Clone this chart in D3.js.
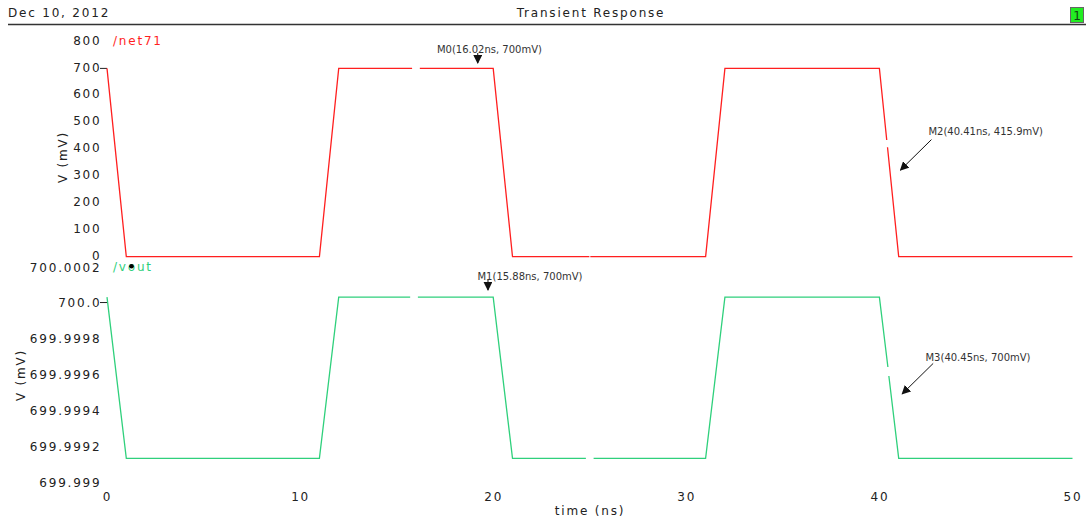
<!DOCTYPE html>
<html>
<head>
<meta charset="utf-8">
<script src="https://cdn.jsdelivr.net/npm/d3@7"></script>
<style>
  html, body { margin: 0; padding: 0; background: #fff; }
  svg { display: block; }
  .lbl { font-family: "DejaVu Sans", Verdana, sans-serif; font-size: 12px; letter-spacing: 1.8px; fill: #222; }
  .mk { font-family: "DejaVu Sans", Verdana, sans-serif; font-size: 10px; fill: #333; }
</style>
</head>
<body>
<svg id="chart" width="1086" height="520"></svg>
<script>
// ---------------- data ----------------
const chartDate = "Dec 10, 2012";
const chartTitle = "Transient Response";
const xTitle = "time (ns)";
const yTitle = "V (mV)";
const xTicks = [0, 10, 20, 30, 40, 50];

const net71Name = "/net71";
const net71Ticks = [0, 100, 200, 300, 400, 500, 600, 700, 800];
const net71Time = [0, 1, 11, 12, 15.8, null, 16.2, 20, 21, 24.98, null, 25.03, 31, 32, 40, 40.38, null, 40.42, 41, 50];
const net71mV   = [700, 0, 0, 700, 700, null, 700, 700, 0, 0, null, 0, 0, 700, 700, 434, null, 407, 0, 0];

const voutName = "/vout";
const voutTicks = [699.999, 699.9992, 699.9994, 699.9996, 699.9998, 700.0, 700.0002];
const voutTickLabels = ["699.999", "699.9992", "699.9994", "699.9996", "699.9998", "700.0", "700.0002"];
const voutTime = [0, 1, 11, 12, 15.7, null, 16.1, 20, 21, 24.8, null, 25.2, 31, 32, 40, 40.44, null, 40.49, 41, 50];
const voutmV   = [700.00003, 699.99913, 699.99913, 700.00003, 700.00003, null, 700.00003, 700.00003, 699.99913, 699.99913, null, 699.99913, 699.99913, 700.00003, 700.00003, 699.99964, null, 699.99959, 699.99913, 699.99913];

const markerNames  = ["M0", "M1", "M2", "M3"];
const markerLabels = ["M0(16.02ns, 700mV)", "M1(15.88ns, 700mV)", "M2(40.41ns, 415.9mV)", "M3(40.45ns, 700mV)"];
const markerPanel  = ["net71", "vout", "net71", "vout"];
const markerTipT   = [19.2, 19.73, 41.09, 41.18];
const markerTipV   = [720, 700.00007, 322, 699.99949];

// ---------------- drawing ----------------
const svg = d3.select("#chart");
const red = "#ff1f1f";
const green = "#2fd07c";

const x = d3.scaleLinear().domain([0, 50]).range([107, 1072.5]);
const yTop = d3.scaleLinear().domain([0, 800]).range([256.7, 41.5]);
const yBot = d3.scaleLinear().domain([699.999, 700.0002]).range([481.7, 266.7]);

// header
svg.append("text").attr("class", "lbl").attr("x", 8).attr("y", 17).text(chartDate);
svg.append("text").attr("class", "lbl").attr("x", 591).attr("y", 17).attr("text-anchor", "middle").text(chartTitle);
svg.append("line").attr("x1", 8).attr("x2", 1086).attr("y1", 24.5).attr("y2", 24.5)
  .attr("stroke", "#333").attr("stroke-width", 1.4);
svg.append("rect").attr("x", 1070.5).attr("y", 7.5).attr("width", 13).attr("height", 15)
  .attr("fill", "#22ee22").attr("stroke", "#666").attr("stroke-width", 1);
svg.append("text").attr("x", 1077).attr("y", 20).attr("text-anchor", "middle")
  .style("font-family", "DejaVu Sans, sans-serif").style("font-size", "12px").attr("fill", "#114411").text("1");

// y axes
function yAxis(scale, ticks, labels, dy) {
  const ax = d3.axisLeft(scale).tickValues(ticks).tickSize(0).tickPadding(5.5);
  if (labels) ax.tickFormat((d, i) => labels[i]);
  else ax.tickFormat(d => String(d));
  const g = svg.append("g").attr("transform", "translate(107," + dy + ")").call(ax);
  g.select(".domain").remove();
  g.selectAll("text").attr("class", "lbl").attr("font-family", null).attr("font-size", null).attr("fill", null);
  return g;
}
const gBot = yAxis(yBot, voutTicks, voutTickLabels, 0.5);
const gTop = yAxis(yTop, net71Ticks, null, -1.2);
gTop.raise();

// short ticks at 700 levels
svg.append("line").attr("x1", 100).attr("x2", 107).attr("y1", yTop(700)).attr("y2", yTop(700)).attr("stroke", "#222");
svg.append("line").attr("x1", 100).attr("x2", 107).attr("y1", yBot(700.0)).attr("y2", yBot(700.0)).attr("stroke", "#222");

// x axis
const xa = d3.axisBottom(x).tickValues(xTicks).tickSize(0).tickPadding(0).tickFormat(d3.format("d"));
const gx = svg.append("g").attr("transform", "translate(0,492)").call(xa);
gx.select(".domain").remove();
gx.selectAll("text").attr("class", "lbl").attr("font-family", null).attr("font-size", null).attr("fill", null);

// axis titles
svg.append("text").attr("class", "lbl").attr("x", 590).attr("y", 515).attr("text-anchor", "middle").text(xTitle);
svg.append("text").attr("class", "lbl").attr("transform", "translate(67,157) rotate(-90)").attr("text-anchor", "middle").text(yTitle);
svg.append("text").attr("class", "lbl").attr("transform", "translate(25,375) rotate(-90)").attr("text-anchor", "middle").text(yTitle);

// series names
svg.append("text").attr("class", "lbl").attr("x", 113).attr("y", 45).style("fill", red).text(net71Name);
svg.append("text").attr("class", "lbl").attr("x", 113).attr("y", 270.5).style("fill", green).text(voutName);
svg.append("circle").attr("cx", 131.5).attr("cy", 266.3).attr("r", 2.3).attr("fill", "#000");

// waveforms
function drawSeries(ts, vs, yScale, color) {
  const pts = ts.map((t, i) => ({ t, v: vs[i] }));
  const line = d3.line().defined(d => d.v !== null && d.t !== null)
    .x(d => x(d.t)).y(d => yScale(d.v));
  svg.append("path").datum(pts).attr("d", line).attr("fill", "none")
    .attr("stroke", color).attr("stroke-width", 1.3);
}
drawSeries(net71Time, net71mV, yTop, red);
drawSeries(voutTime, voutmV, yBot, green);

// markers
svg.append("defs").append("marker").attr("id", "ah").attr("viewBox", "0 0 10 10")
  .attr("refX", 9).attr("refY", 5).attr("markerWidth", 9).attr("markerHeight", 9)
  .attr("markerUnits", "userSpaceOnUse").attr("orient", "auto")
  .append("path").attr("d", "M0,0 L10,5 L0,10 z").attr("fill", "#111");

markerNames.forEach((m, i) => {
  const ys = markerPanel[i] === "net71" ? yTop : yBot;
  const tx = x(markerTipT[i]), ty = ys(markerTipV[i]);
  let x1, y1, lx, ly, anchor;
  if (m === "M0" || m === "M1") {
    x1 = tx; y1 = ty - 10;
    lx = tx + (m === "M0" ? 11.7 : 42); ly = ty - 14 + (m === "M1" ? 0.7 : 0); anchor = "middle";
  } else {
    x1 = tx + 31; y1 = ty - 30.5;
    lx = tx + (m === "M2" ? 28 : 23.3); ly = ty - (m === "M2" ? 39 : 36.7); anchor = "start";
  }
  svg.append("line").attr("x1", x1).attr("y1", y1).attr("x2", tx).attr("y2", ty)
    .attr("stroke", "#111").attr("stroke-width", 1).attr("marker-end", "url(#ah)");
  svg.append("text").attr("class", "mk").attr("x", lx).attr("y", ly + 3.5)
    .attr("text-anchor", anchor).text(markerLabels[i]);
});
</script>
</body>
</html>
